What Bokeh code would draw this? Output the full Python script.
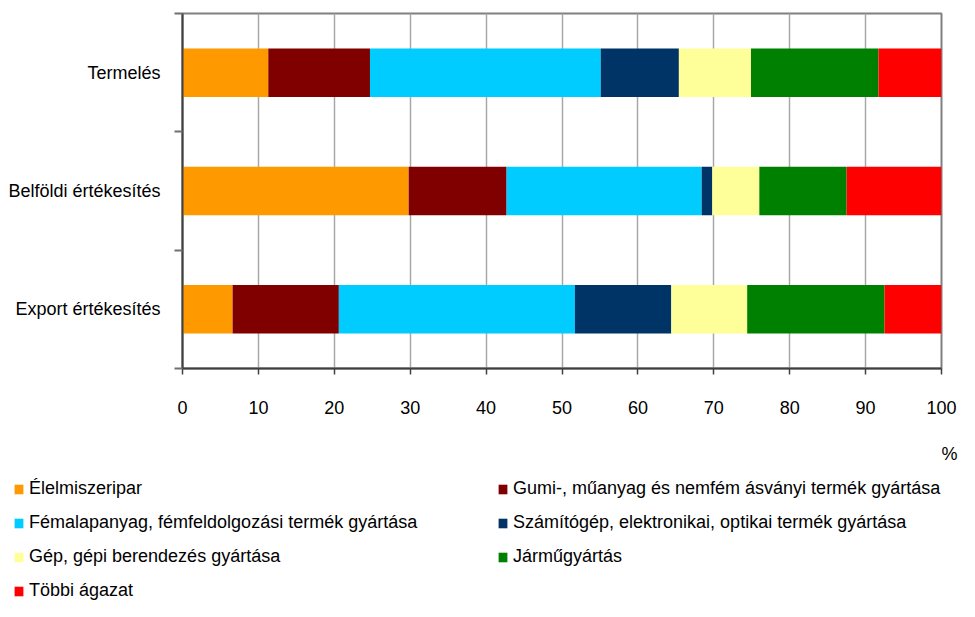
import numpy as np
from bokeh.plotting import figure
from bokeh.layouts import column
from bokeh.models import ColumnDataSource, FixedTicker, Legend, LegendItem, Label
from bokeh.embed import file_html
from bokeh.resources import INLINE

categories = ["Termelés", "Belföldi értékesítés", "Export értékesítés"]
series = [
    "Élelmiszeripar",
    "Gumi-, műanyag és nemfém ásványi termék gyártása",
    "Fémalapanyag, fémfeldolgozási termék gyártása",
    "Számítógép, elektronikai, optikai termék gyártása",
    "Gép, gépi berendezés gyártása",
    "Járműgyártás",
    "Többi ágazat",
]
colors = ["#FF9900", "#800000", "#00CCFF", "#003366", "#FFFF99", "#008000", "#FF0000"]

elelmiszer = [11.3, 29.8, 6.6]
gumi = [13.4, 12.9, 14.0]
femalap = [30.4, 25.7, 31.1]
szamitogep = [10.3, 1.4, 12.7]
gep = [9.5, 6.2, 10.0]
jarmu = [16.8, 11.5, 18.1]
tobbi = [8.3, 12.5, 7.5]

x_ticks = [0, 10, 20, 30, 40, 50, 60, 70, 80, 90, 100]
unit_label = "%"

FONT = "'Liberation Sans', Arial, sans-serif"
FS = "18px"

n = len(categories)
ypos = [n - 0.5 - i for i in range(n)]
keys = ["s%d" % i for i in range(len(series))]
values = [elelmiszer, gumi, femalap, szamitogep, gep, jarmu, tobbi]
data = {"y": ypos}
for k, v in zip(keys, values):
    data[k] = v
source = ColumnDataSource(data)

W = 959
H1 = 430
H2 = 601 - H1

p = figure(width=W, height=H1, x_range=(0, 100), y_range=(0, n),
           output_backend="svg", toolbar_location=None,
           min_border_left=182, min_border_right=18, min_border_top=13,
           min_border_bottom=H1 - 368)

renderers = p.hbar_stack(keys, y="y", height=0.41, color=colors, source=source,
                         line_color=None)

p.outline_line_color = "#808080"
p.outline_line_width = 2

p.ygrid.grid_line_color = None
p.xgrid.ticker = FixedTicker(ticks=x_ticks)
p.xgrid.grid_line_color = "#a8a8a8"
p.xgrid.grid_line_width = 1.5

p.xaxis.ticker = FixedTicker(ticks=x_ticks)
p.xaxis.axis_line_color = "#404040"
p.xaxis.axis_line_width = 2
p.xaxis.major_tick_line_color = "#404040"
p.xaxis.major_tick_line_width = 1.5
p.xaxis.major_tick_out = 6
p.xaxis.major_tick_in = 0
p.xaxis.minor_tick_line_color = None
p.xaxis.major_label_text_font = FONT
p.xaxis.major_label_text_font_size = FS
p.xaxis.major_label_text_color = "#000000"
p.xaxis.major_label_standoff = 26

p.yaxis.ticker = FixedTicker(ticks=ypos, minor_ticks=list(range(n + 1)))
p.yaxis.major_label_overrides = {y: c for y, c in zip(ypos, categories)}
p.yaxis.axis_line_color = "#404040"
p.yaxis.axis_line_width = 2
p.yaxis.major_tick_line_color = None
p.yaxis.major_tick_out = 0
p.yaxis.major_tick_in = 0
p.yaxis.minor_tick_line_color = "#707070"
p.yaxis.minor_tick_line_width = 2
p.yaxis.minor_tick_out = 8
p.yaxis.minor_tick_in = 0
p.yaxis.major_label_text_font = FONT
p.yaxis.major_label_text_font_size = FS
p.yaxis.major_label_text_color = "#000000"
p.yaxis.major_label_standoff = 14

# lower panel: unit label and legend
p2 = figure(width=W, height=H2, x_range=(0, W), y_range=(0, H2),
            output_backend="svg", toolbar_location=None,
            min_border=0, min_border_left=0, min_border_right=0,
            min_border_top=0, min_border_bottom=0)
p2.frame_align = False
p2.axis.visible = False
p2.grid.visible = False
p2.outline_line_color = None

p2.add_layout(Label(x=949, y=H2 - 23, text=unit_label, text_align="center",
                    text_baseline="middle", text_font=FONT,
                    text_font_size=FS, text_color="#000000"))

# legend swatches: one non-drawn (NaN) quad per series, used only for the legend
nan = np.array([np.nan])
legend_renderers = []
for c in colors:
    src = ColumnDataSource({"left": nan, "right": nan, "bottom": nan, "top": nan})
    legend_renderers.append(p2.quad(left="left", right="right", bottom="bottom",
                                    top="top", fill_color=c, line_color=None,
                                    source=src))

items = [LegendItem(label=s, renderers=[r]) for s, r in zip(series, legend_renderers)]
legend = Legend(items=items, orientation="horizontal", ncols=2,
                location=(13, 0),
                glyph_width=11, glyph_height=12, label_standoff=5,
                label_width=455, label_height=20, spacing=13,
                padding=0, margin=0, border_line_color=None,
                background_fill_alpha=0,
                label_text_font=FONT, label_text_font_size=FS,
                label_text_color="#000000")
p2.add_layout(legend, "center")

layout = column(p, p2, spacing=0)
open("out.html", "w").write(file_html(layout, INLINE))
